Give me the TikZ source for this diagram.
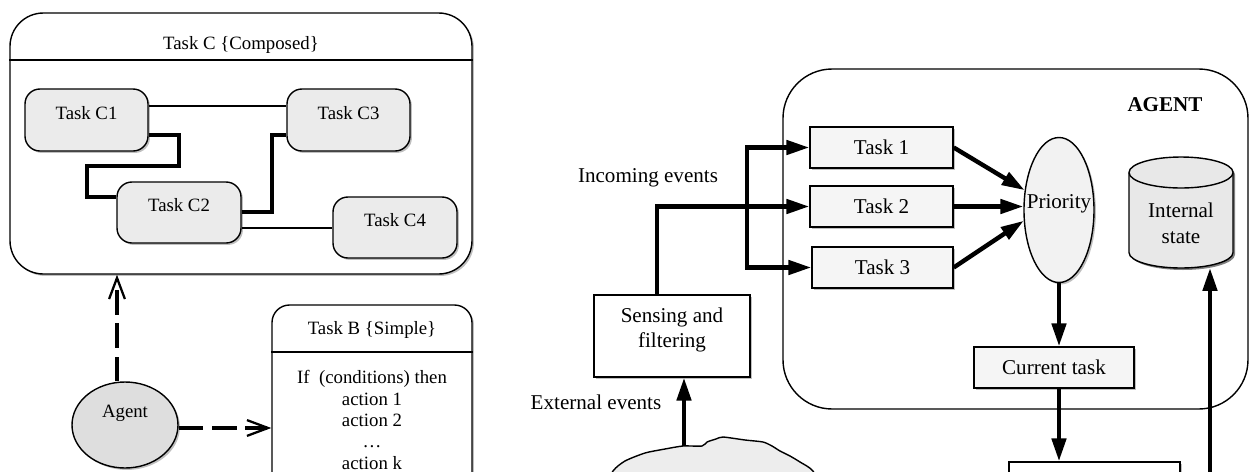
\documentclass[tikz,border=0pt]{standalone}
\usepackage{fontspec}
\setmainfont{Liberation Serif}
\usetikzlibrary{arrows.meta,shadows,shapes.geometric}
\newcommand\pxu{0.02cm}
\begin{document}
\begin{tikzpicture}[x=0.02cm,y=-0.02cm,
  lf/.style={font=\fontsize{10.7}{12.2}\selectfont},
  rf/.style={font=\fontsize{12}{14.7}\selectfont},
  shad/.style={drop shadow={shadow xshift=1.1pt,shadow yshift=-1.1pt,fill=black!50}},
  bord/.style={draw,line width=0.8pt},
  ctaskst/.style={bord,fill=black!8,rounded corners=8.5pt,minimum width=123*\pxu,minimum height=62*\pxu,inner sep=0pt,lf,shad,text height=7.1pt,text depth=8pt},
  taskst/.style={bord,fill=black!4,minimum width=143*\pxu,minimum height=41*\pxu,inner sep=0pt,rf,shad},
  arrst/.style={line width=2.5pt,-{Triangle[length=13pt,width=8pt]}},
  dashst/.style={line width=2.2pt,dash pattern=on 14pt off 5pt,-{Straight Barb[length=12pt,width=9pt,line width=1.3pt]}},
  thickln/.style={line width=1.9pt},
  thinln/.style={line width=1.3pt}]
\useasboundingbox (0,0) rectangle (1249,471);
\clip (0,0) rectangle (1249,471);

% ---------- left part ----------
\node[bord,fill=white,rounded corners=19pt,minimum width=462*\pxu,minimum height=261*\pxu,inner sep=0pt,shad] (taskc) at (241,143.5) {};
\draw[line width=0.8pt] (taskc.west |- 0,60) -- (taskc.east |- 0,60);
\node[lf] (taskctitle) at (241,45) {Task C \{Composed\}};

\node[ctaskst] (c1) at (86.5,120) {Task C1};
\node[ctaskst] (c3) at (348.5,120) {Task C3};
\node[ctaskst,minimum width=124*\pxu,minimum height=61*\pxu] (c2) at (179,212.5) {Task C2};
\node[ctaskst,minimum width=124*\pxu,minimum height=61*\pxu] (c4) at (395,227.5) {Task C4};

\draw[thinln] (c1.east |- 0,106) -- (c3.west |- 0,106);
\draw[thickln] (c1.east |- 0,135) -| (179,166) -| (87,197) -- (c2.west |- 0,197);
\draw[thickln] (c2.east |- 0,212) -| (272,135) -- (c3.west |- 0,135);
\draw[thinln] (c2.east |- 0,228) -- (c4.west |- 0,228);

\node[bord,fill=white,rounded corners=10pt,minimum width=200*\pxu,minimum height=185*\pxu,inner sep=0pt,shad] (taskb) at (372,397.5) {};
\draw[line width=0.8pt] (taskb.west |- 0,352) -- (taskb.east |- 0,352);
\node[lf] (taskbtitle) at (372,330) {Task B \{Simple\}};
\node[lf,align=center] (taskbbody) at (372,420) {If~ (conditions) then\\action 1\\action 2\\…\\action k};

\node[ellipse,bord,fill=black!13,minimum width=106*\pxu,minimum height=86*\pxu,inner sep=0pt,shad,
  label={[lf,yshift=6.8pt]center:Agent}] (agent) at (125,425) {};

\draw[dashst] (agent.north -| 117,0) -- (117,0 |- taskc.south);
\draw[dashst] (agent.east |- 0,428) -- (taskb.west |- 0,428);

% ---------- right part ----------
\node[bord,rounded corners=28pt,minimum width=465*\pxu,minimum height=340*\pxu,inner sep=0pt] (agentbox) at (1015.5,239) {};
\node[font=\fontsize{12}{14}\selectfont\bfseries] (agenttitle) at (1165,105) {AGENT};

\node[taskst] (t1) at (881.5,147.5) {Task 1};
\node[taskst] (t2) at (881.5,206.5) {Task 2};
\node[taskst,minimum width=141*\pxu] (t3) at (882.5,267.5) {Task 3};

\node[ellipse,bord,fill=black!5,minimum width=70*\pxu,minimum height=145*\pxu,inner sep=0pt,shad,
  label={[rf,inner sep=0pt,yshift=3.4pt]center:Priority}] (prio) at (1059,210) {};

\node[taskst,minimum width=160*\pxu] (cur) at (1054,367.5) {Current task};
\node[bord,fill=white,minimum width=171*\pxu,minimum height=40*\pxu,inner sep=0pt,shad] (bot) at (1094.5,482) {};

\node[bord,fill=white,minimum width=156*\pxu,minimum height=82*\pxu,inner sep=0pt,shad,
  label={[rf,align=center,yshift=3.4pt]center:{Sensing and\\filtering}}] (sense) at (672,336) {};

% cylinder
\fill[black!50] (1131,174.5) -- (1131,254.5) arc[start angle=180,end angle=0,x radius=52,y radius=15.5] -- (1235,174.5) arc[start angle=0,end angle=-180,x radius=52,y radius=15.5] -- cycle;
\draw[line width=0.8pt,fill=black!9] (1129,172.5) -- (1129,252.5) arc[start angle=180,end angle=0,x radius=52,y radius=15.5] -- (1233,172.5) arc[start angle=0,end angle=-180,x radius=52,y radius=15.5] -- cycle;
\draw[line width=0.8pt] (1129,172.5) arc[start angle=180,end angle=0,x radius=52,y radius=15.5];
\node[rf,align=center] (cyl) at (1181,223.5) {Internal\\state};
\coordinate (cylb) at (1210,268);
\coordinate (cylsrc) at (1210,490);

% cloud
\draw[line width=0.8pt,fill=black!7] plot[smooth,tension=0.4] coordinates {(600,495) (613,471) (625,461) (645,453) (665,449) (683,446) (702,446) (707,442) (716,439) (723,437) (745,440) (763,442) (772,446) (780,451) (790,456) (800,462) (813,471) (825,495)} -- cycle;
\coordinate (ctop) at (684,446);

% arrows
\draw[arrst] (t1.east) -- (prio.150);
\draw[arrst] (t2.east) -- (t2.east -| prio.west);
\draw[arrst] (t3.east) -- (prio.197);
\draw[arrst] (prio.south) -- (prio.south |- cur.north);
\draw[arrst] (prio.south |- cur.south) -- (prio.south |- bot.north);
\draw[arrst] (cylsrc) -- (cylb);

\draw[arrst] (sense.north -| 657,0) |- (t2.west);
\coordinate (br) at (747,206.5);
\draw[arrst] (br) |- (t1.west);
\draw[arrst] (br) |- (t3.west);
\draw[arrst] (ctop) -- (ctop |- sense.south);

\node[rf] (inc) at (648,178) {Incoming events};
\node[rf] (ext) at (596,402) {External events};
\end{tikzpicture}
\end{document}
